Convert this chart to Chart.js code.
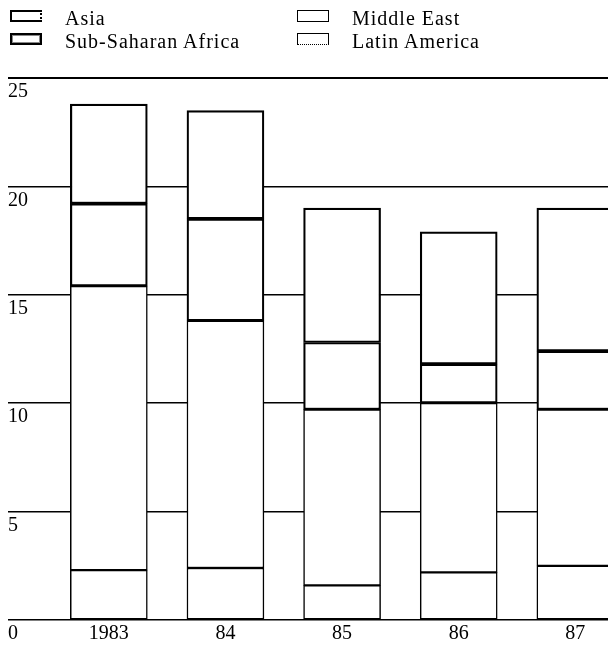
<!DOCTYPE html>
<html><head><meta charset="utf-8">
<script src="https://cdn.jsdelivr.net/npm/chart.js@4"></script>
<style>
html,body{margin:0;padding:0;background:#fff;overflow:hidden;}
#wrap{position:relative;width:608px;height:645px;}
canvas{position:absolute;left:0;top:0;}
.lg{position:absolute;font-family:"Liberation Serif","Times New Roman",serif;font-size:20px;letter-spacing:1px;color:#000;line-height:20px;white-space:nowrap;}
.ic{position:absolute;box-sizing:border-box;width:32px;height:12px;background:#fff;}
</style></head>
<body><div id="wrap"><canvas id="c" width="608" height="645"></canvas><div id="legend"></div></div>
<script>
const years = [1983, 1984, 1985, 1986, 1987];
const yearLabels = ['1983', '84', '85', '86', '87'];
const seriesNames = ['Latin America', 'Middle East', 'Sub-Saharan Africa', 'Asia'];
const latinAmerica = [2.3, 2.4, 1.6, 2.2, 2.5];
const middleEast = [13.1, 11.4, 8.1, 7.8, 7.2];
const subSaharanAfrica = [3.8, 4.7, 3.1, 1.8, 2.7];
const asia = [4.6, 5.0, 6.2, 6.1, 6.6];
const yTicks = [0, 5, 10, 15, 20, 25];

const FAMILY = '"Liberation Serif","Times New Roman",serif';
const seriesValues = [latinAmerica, middleEast, subSaharanAfrica, asia];
const borderWidths = [1.5, 1.5, 2.2, 2.2];

// legend (HTML, real text)
const legendPos = {
  'Asia': {x: 10, y: 10, css: 'border:2px solid #000;border-right:2px dotted #000;'},
  'Sub-Saharan Africa': {x: 10, y: 33, css: 'border:2px solid #000;box-shadow:inset 0 0 0 1px #888;'},
  'Middle East': {x: 297, y: 10, css: 'border:1.5px solid #000;'},
  'Latin America': {x: 297, y: 33, css: 'border:1.5px solid #000;border-bottom:1.5px dotted #000;'}
};
const lg = document.getElementById('legend');
seriesNames.forEach(name => {
  const p = legendPos[name];
  const ic = document.createElement('div');
  ic.className = 'ic';
  ic.style.cssText = 'left:' + p.x + 'px;top:' + p.y + 'px;' + p.css;
  lg.appendChild(ic);
  const t = document.createElement('div');
  t.className = 'lg';
  t.style.left = (p.x + 55) + 'px';
  t.style.top = (p.y - 2) + 'px';
  t.textContent = name;
  lg.appendChild(t);
});

const datasets = seriesValues.map((vals, i) => ({
  label: seriesNames[i],
  data: years.map((yr, j) => ({x: yr, y: vals[j]})),
  backgroundColor: '#fff',
  borderColor: '#000',
  borderWidth: borderWidths[i],
  borderSkipped: false,
  barThickness: 77
}));

new Chart(document.getElementById('c'), {
  type: 'bar',
  data: {datasets},
  options: {
    responsive: false,
    animation: false,
    devicePixelRatio: 1,
    layout: {padding: {left: 8, top: 78, right: 0, bottom: -3}},
    plugins: {legend: {display: false}, tooltip: {enabled: false}},
    scales: {
      x: {
        type: 'linear', stacked: true, offset: false, min: 1982.1355, max: 1987.28,
        grid: {display: false, drawTicks: false}, border: {display: false},
        afterBuildTicks: s => { s.ticks = years.map(v => ({value: v})); },
        ticks: {
          padding: 2, color: '#000', maxRotation: 0, autoSkip: false,
          font: {family: FAMILY, size: 20},
          callback: v => { const k = years.indexOf(v); return k >= 0 ? yearLabels[k] : ''; }
        }
      },
      y: {
        stacked: true, min: 0, max: 25,
        afterBuildTicks: s => { s.ticks = yTicks.map(v => ({value: v})); },
        grid: {color: '#000', lineWidth: c => (c.tick && c.tick.value === 25) ? 2 : 1.5, drawTicks: false},
        border: {display: false},
        ticks: {mirror: true, padding: 0, labelOffset: 14, color: '#000', font: {family: FAMILY, size: 20, lineHeight: 0.5}}
      }
    }
  }
});
</script>
</body></html>
